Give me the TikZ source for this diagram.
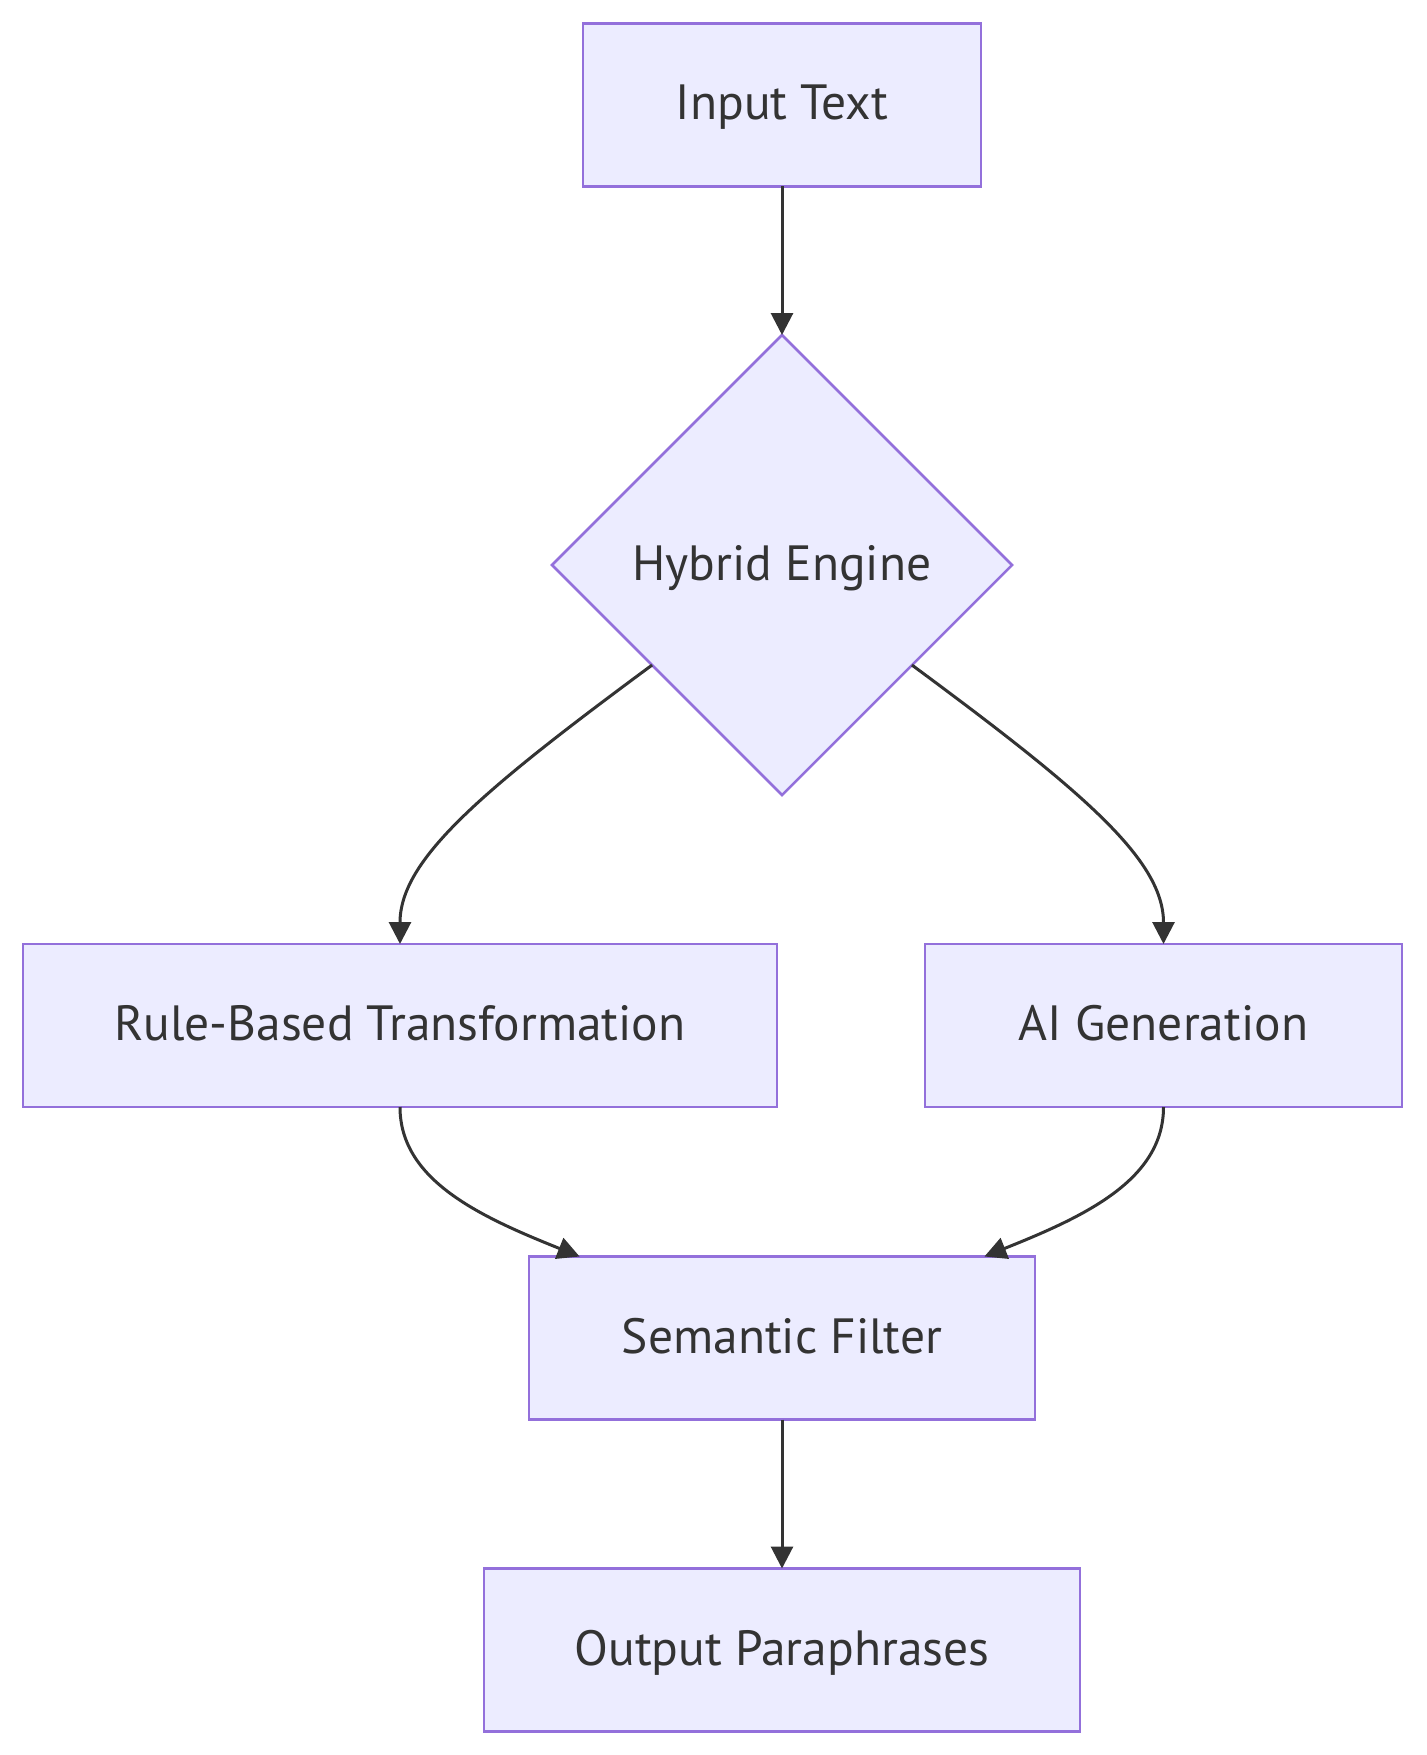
\documentclass[tikz,border=0pt]{standalone}
\usepackage{fontspec}
\setmainfont{PT Sans}
\usetikzlibrary{shapes.geometric,arrows.meta,calc}
\definecolor{nodefill}{HTML}{ECECFF}
\definecolor{nodeline}{HTML}{9370DB}
\definecolor{ink}{HTML}{333333}
\tikzset{
  box/.style={draw=nodeline, fill=nodefill, line width=2.5pt, rectangle, inner sep=0pt, outer sep=0pt,
    text=ink, font=\fontsize{49.5}{58}\selectfont, text height=38pt, text depth=8pt, minimum height=163pt},
  decide/.style={draw=nodeline, fill=nodefill, line width=2.5pt, diamond, aspect=1, inner sep=0pt, outer sep=0pt,
    text=ink, font=\fontsize{49.5}{58}\selectfont, text height=38pt, text depth=8pt, minimum width=460pt, minimum height=460pt},
  edge/.style={draw=ink, line width=3pt, -{Triangle[length=22pt,width=22pt]}}
}
\begin{document}
\begin{tikzpicture}[x=1pt,y=-1pt]
\useasboundingbox (0,0) rectangle (1426,1755);
\node[box, minimum width=398pt] (in) at (782,105) {Input Text};
\node[decide] (hy) at (782,565) {Hybrid Engine};
\node[box, minimum width=754pt] (rb) at (400,1025.5) {Rule-Based Transformation};
\node[box, minimum width=477pt] (ai) at (1163.5,1025.5) {AI Generation};
\node[box, minimum width=506pt] (sf) at (782,1338) {Semantic Filter};
\node[box, minimum width=596pt] (out) at (782,1650) {Output Paraphrases};

\draw[edge] (in.south) -- (hy.north);
\draw[edge] ($(hy.west)!0.435!(hy.south)$) .. controls +(-172,127) and +(0,-84) .. (rb.north);
\draw[edge] ($(hy.east)!0.435!(hy.south)$) .. controls +(172,127) and +(0,-84) .. (ai.north);
\draw[edge] (rb.south) .. controls +(0,73) and +(-100,-40) .. ($(sf.north west)!0.1!(sf.north east)$);
\draw[edge] (ai.south) .. controls +(0,73) and +(100,-40) .. ($(sf.north east)!0.1!(sf.north west)$);
\draw[edge] (sf.south) -- (out.north);
\end{tikzpicture}
\end{document}
